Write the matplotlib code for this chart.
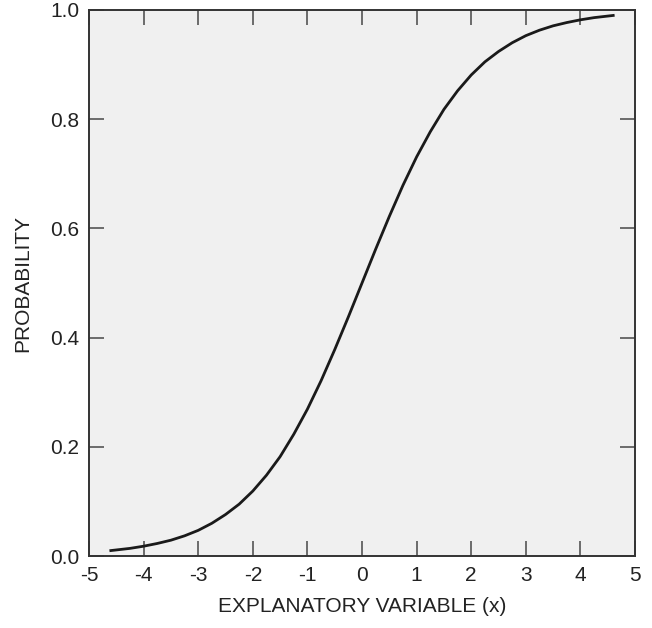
import matplotlib
matplotlib.use('Agg')
import matplotlib.pyplot as plt

# values
x_vals = [-4.6, -4.25, -4.0, -3.75, -3.5, -3.25, -3.0, -2.75, -2.5, -2.25, -2.0,
          -1.75, -1.5, -1.25, -1.0, -0.75, -0.5, -0.25, 0.0, 0.25, 0.5, 0.75,
          1.0, 1.25, 1.5, 1.75, 2.0, 2.25, 2.5, 2.75, 3.0, 3.25, 3.5, 3.75,
          4.0, 4.25, 4.6]
prob_vals = [0.010, 0.014, 0.018, 0.023, 0.029, 0.037, 0.047, 0.060, 0.076, 0.095,
             0.119, 0.148, 0.182, 0.223, 0.269, 0.321, 0.378, 0.438, 0.500, 0.562,
             0.622, 0.679, 0.731, 0.777, 0.818, 0.852, 0.881, 0.905, 0.924, 0.940,
             0.953, 0.963, 0.971, 0.977, 0.982, 0.986, 0.990]

x_ticks = [-5, -4, -3, -2, -1, 0, 1, 2, 3, 4, 5]
y_ticks = [0.0, 0.2, 0.4, 0.6, 0.8, 1.0]

plt.rcParams['font.family'] = ['Liberation Sans', 'DejaVu Sans']

fig = plt.figure(figsize=(6.52, 6.28), dpi=100)
ax = fig.add_axes([0.1365, 0.1146, 0.8375, 0.8695])
ax.set_facecolor('#f0f0f0')

ax.plot(x_vals, prob_vals, color='#1a1a1a', linewidth=2.0)

ax.set_xlim(-5, 5)
ax.set_ylim(0, 1)
ax.set_xticks(x_ticks)
ax.set_xticklabels([str(t) for t in x_ticks])
ax.set_yticks(y_ticks)
ax.set_yticklabels(['%.1f' % t for t in y_ticks])

ax.tick_params(direction='in', length=11, width=1.2, color='#555555',
               top=True, right=True, labelsize=15, labelcolor='#222222', pad=7)
for s in ax.spines.values():
    s.set_color('#333333')
    s.set_linewidth(1.4)

ax.set_xlabel('EXPLANATORY VARIABLE (x)', fontsize=15, color='#222222', labelpad=9)
ax.set_ylabel('PROBABILITY', fontsize=15, color='#222222', labelpad=13)

fig.savefig('out.png', dpi=100)
